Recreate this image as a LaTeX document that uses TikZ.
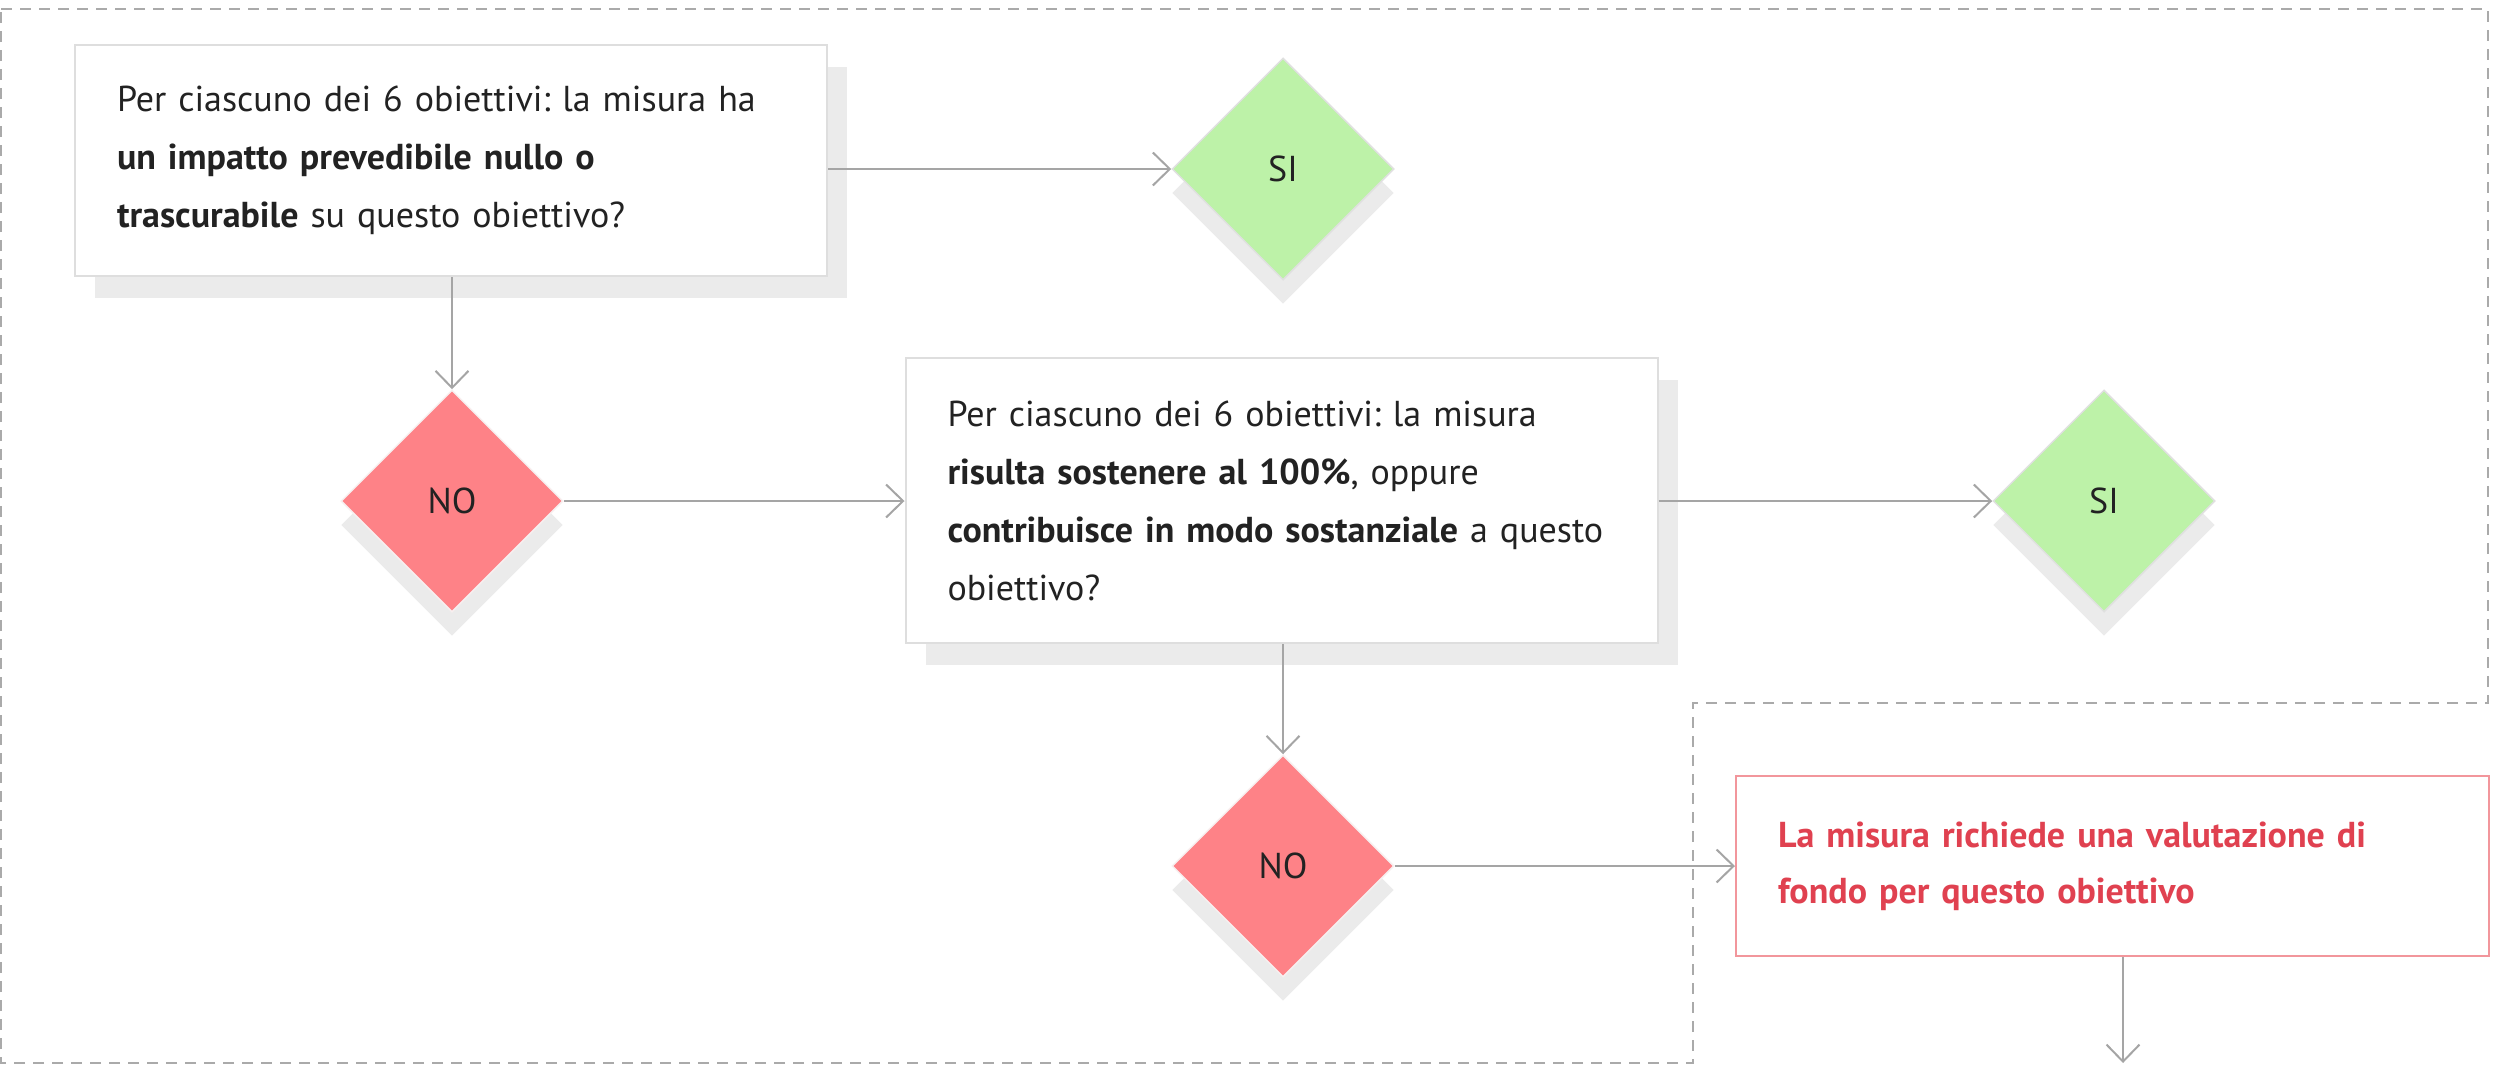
\documentclass[tikz,border=0pt]{standalone}
\usepackage{fontspec}
\setmainfont{PT Sans}
\frenchspacing
\usetikzlibrary{shapes.geometric,arrows.meta,shadows}
\definecolor{txt}{RGB}{34,34,34}
\definecolor{linegray}{RGB}{165,165,165}
\definecolor{boxborder}{RGB}{222,222,222}
\definecolor{shadowgray}{RGB}{235,235,235}
\definecolor{sigreen}{RGB}{189,242,168}
\definecolor{nored}{RGB}{254,130,135}
\definecolor{redtext}{RGB}{224,65,80}
\definecolor{redborder}{RGB}{242,150,156}
\definecolor{dashgray}{RGB}{170,170,170}
\tikzset{
  qbox/.style={rectangle, draw=boxborder, line width=2pt, fill=white,
    minimum width=752pt, text width=668pt, inner xsep=42pt, align=left,
    text=txt, font=\fontsize{36}{58}\selectfont,
    drop shadow={shadow xshift=20pt, shadow yshift=-22pt, fill=shadowgray, opacity=1}},
  dia/.style={diamond, aspect=1, minimum width=222pt, minimum height=222pt,
    inner sep=0pt, line width=1.5pt, text=txt, font=\fontsize{36}{40}\selectfont,
    drop shadow={shadow xshift=0pt, shadow yshift=-24pt, fill=shadowgray, opacity=1}},
  sidia/.style={dia, fill=sigreen, draw=black!12},
  nodia/.style={dia, fill=nored, draw=nored!70!black!10!white},
  conn/.style={draw=linegray, line width=2pt,
    -{Straight Barb[length=17pt,width=33pt]}},
  dashline/.style={draw=dashgray, line width=2pt, dash pattern=on 11pt off 8pt},
}
\begin{document}
\begin{tikzpicture}[x=1pt,y=-1pt]
\useasboundingbox (0,0) rectangle (2509,1066);
\draw[dashline] (1,9) -- (2488,9) -- (2488,703) -- (1693,703) -- (1693,1063) -- (1,1063) -- cycle;

\node[qbox, minimum height=231pt] (q1) at (451,160.5)
  {Per ciascuno dei 6 obiettivi: la misura ha\\
   \textbf{un impatto prevedibile nullo o}\\
   \textbf{trascurabile} su questo obiettivo?};
\node[sidia] (si1) at (1283,169) {SI};
\node[nodia] (no1) at (452,501) {NO};
\node[qbox, minimum height=285pt] (q2) at (1281.5,500.5)
  {Per ciascuno dei 6 obiettivi: la misura\\
   \textbf{risulta sostenere al 100\%}, oppure\\
   \textbf{contribuisce in modo sostanziale} a questo\\
   obiettivo?};
\node[sidia] (si2) at (2104,501) {SI};
\node[nodia] (no2) at (1283,866) {NO};
\node[rectangle, draw=redborder, line width=2pt, fill=white,
  minimum width=753pt, minimum height=180pt, text width=669pt, inner xsep=42pt,
  align=left, text=redtext, font=\fontsize{36}{56}\selectfont\bfseries] (red) at (2112.5,866)
  {La misura richiede una valutazione di\\ fondo per questo obiettivo};
\coordinate (out) at (2123,1063);

\draw[conn] (q1.east |- si1.west) -- (si1.west);
\draw[conn] (no1.north |- q1.south) -- (no1.north);
\draw[conn] (no1.east) -- (q2.west |- no1.east);
\draw[conn] (q2.east |- si2.west) -- (si2.west);
\draw[conn] (no2.north |- q2.south) -- (no2.north);
\draw[conn] (no2.east) -- (red.west |- no2.east);
\draw[conn] (red.south -| out) -- (out);
\end{tikzpicture}
\end{document}
